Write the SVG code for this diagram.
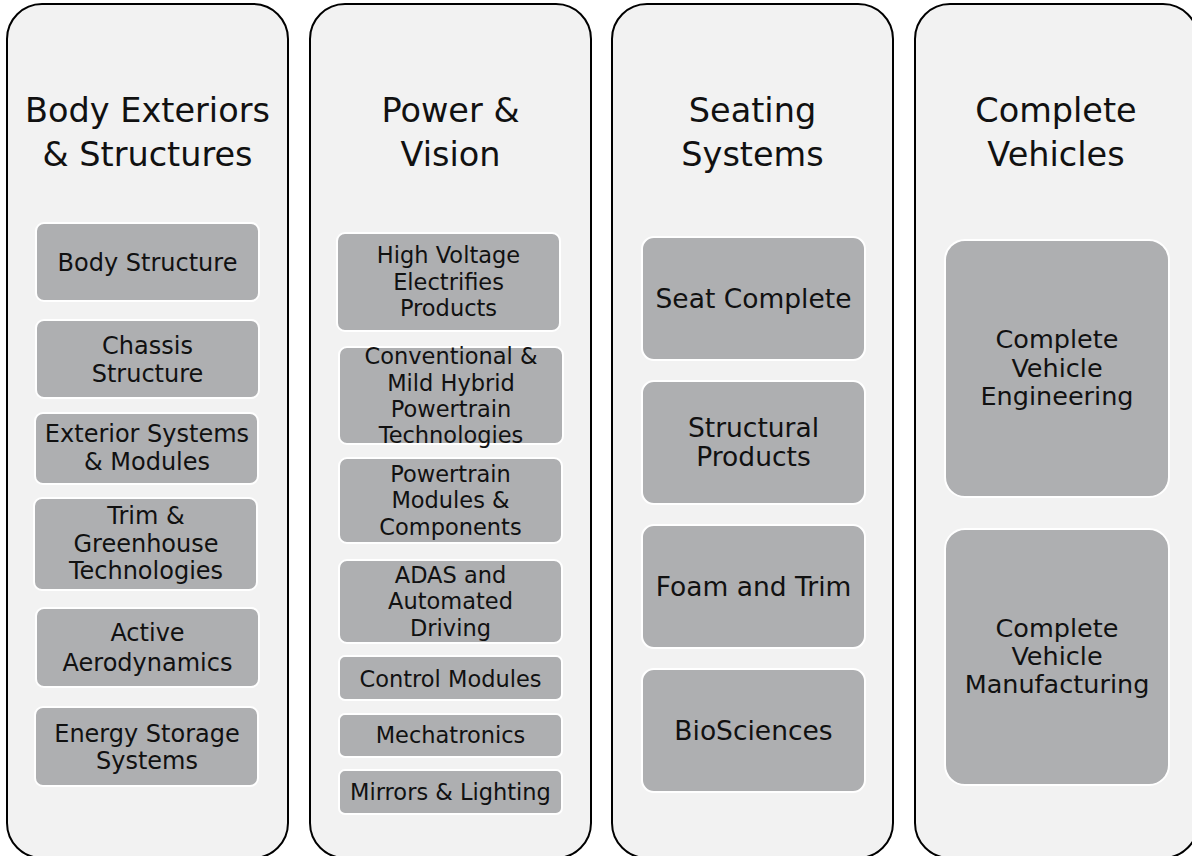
<svg xmlns="http://www.w3.org/2000/svg" width="1192" height="856" viewBox="0 0 1192 856">
<style>
.col{fill:#f2f2f2;stroke:#000;stroke-width:2}
.box{fill:#aeafb1;stroke:#fff;stroke-width:2}
text{font-family:"DejaVu Sans",sans-serif;fill:#111;text-anchor:middle}
.t{font-size:33.5px}
.a{font-size:24px}
.b{font-size:22.5px}
.c{font-size:26.5px}
.d{font-size:25.5px}
</style>
<rect width="1192" height="856" fill="#fff"/>
<g id="col-body">
<rect class="col" x="7" y="4" width="281" height="854" rx="35"/>
<text class="t" x="147.5" y="122">Body Exteriors</text>
<text class="t" x="147.5" y="166">&amp; Structures</text>
</g>
<g id="col-power">
<rect class="col" x="310" y="4" width="281" height="854" rx="35"/>
<text class="t" x="450.5" y="122">Power &amp;</text>
<text class="t" x="450.5" y="166">Vision</text>
</g>
<g id="col-seating">
<rect class="col" x="612" y="4" width="281" height="854" rx="35"/>
<text class="t" x="752.5" y="122">Seating</text>
<text class="t" x="752.5" y="166">Systems</text>
</g>
<g id="col-complete">
<rect class="col" x="915" y="4" width="283" height="854" rx="35"/>
<text class="t" x="1056" y="122">Complete</text>
<text class="t" x="1056" y="166">Vehicles</text>
</g>

<g id="body-structure"><rect class="box" x="36" y="223" width="223" height="78" rx="8"/><text class="a" x="147.5" y="271">Body Structure</text></g>
<g id="chassis-structure"><rect class="box" x="36" y="320" width="223" height="78" rx="8"/><text class="a" x="147.5" y="354">Chassis</text><text class="a" x="147.5" y="382">Structure</text></g>
<g id="exterior-systems"><rect class="box" x="35" y="413" width="223" height="71" rx="8"/><text class="a" x="147" y="442">Exterior Systems</text><text class="a" x="147" y="470">&amp; Modules</text></g>
<g id="trim-greenhouse"><rect class="box" x="34" y="498" width="223" height="92" rx="8"/><text class="a" x="146" y="524">Trim &amp;</text><text class="a" x="146" y="552">Greenhouse</text><text class="a" x="146" y="579">Technologies</text></g>
<g id="active-aero"><rect class="box" x="36" y="608" width="223" height="79" rx="8"/><text class="a" x="147.5" y="641">Active</text><text class="a" x="147.5" y="671">Aerodynamics</text></g>
<g id="energy-storage"><rect class="box" x="35" y="707" width="223" height="79" rx="8"/><text class="a" x="147" y="742">Energy Storage</text><text class="a" x="147" y="769">Systems</text></g>

<g id="high-voltage"><rect class="box" x="337" y="233" width="223" height="98" rx="8"/><text class="b" x="448.5" y="263">High Voltage</text><text class="b" x="448.5" y="290">Electrifies</text><text class="b" x="448.5" y="316">Products</text></g>
<g id="conventional"><rect class="box" x="339" y="347" width="224" height="97" rx="8"/><text class="b" x="451" y="364">Conventional &amp;</text><text class="b" x="451" y="391">Mild Hybrid</text><text class="b" x="451" y="417">Powertrain</text><text class="b" x="451" y="443">Technologies</text></g>
<g id="powertrain-modules"><rect class="box" x="339" y="458" width="223" height="85" rx="8"/><text class="b" x="450.5" y="482">Powertrain</text><text class="b" x="450.5" y="508">Modules &amp;</text><text class="b" x="450.5" y="535">Components</text></g>
<g id="adas"><rect class="box" x="339" y="560" width="223" height="83" rx="8"/><text class="b" x="450.5" y="583">ADAS and</text><text class="b" x="450.5" y="609">Automated</text><text class="b" x="450.5" y="636">Driving</text></g>
<g id="control-modules"><rect class="box" x="339" y="656" width="223" height="44" rx="6"/><text class="b" x="450.5" y="687">Control Modules</text></g>
<g id="mechatronics"><rect class="box" x="339" y="714" width="223" height="43" rx="6"/><text class="b" x="450.5" y="743">Mechatronics</text></g>
<g id="mirrors-lighting"><rect class="box" x="339" y="770" width="223" height="44" rx="6"/><text class="b" x="450.5" y="800">Mirrors &amp; Lighting</text></g>

<g id="seat-complete"><rect class="box" x="642" y="237" width="223" height="123" rx="12"/><text class="c" x="753.5" y="308">Seat Complete</text></g>
<g id="structural-products"><rect class="box" x="642" y="381" width="223" height="123" rx="12"/><text class="c" x="753.5" y="437">Structural</text><text class="c" x="753.5" y="466">Products</text></g>
<g id="foam-trim"><rect class="box" x="642" y="525" width="223" height="123" rx="12"/><text class="c" x="753.5" y="596">Foam and Trim</text></g>
<g id="biosciences"><rect class="box" x="642" y="669" width="223" height="123" rx="12"/><text class="c" x="753.5" y="740">BioSciences</text></g>

<g id="cv-engineering"><rect class="box" x="945" y="240" width="224" height="257" rx="20"/><text class="d" x="1057" y="348">Complete</text><text class="d" x="1057" y="376.5">Vehicle</text><text class="d" x="1057" y="405">Engineering</text></g>
<g id="cv-manufacturing"><rect class="box" x="945" y="529" width="224" height="256" rx="20"/><text class="d" x="1057" y="637">Complete</text><text class="d" x="1057" y="665">Vehicle</text><text class="d" x="1057" y="693">Manufacturing</text></g>
<g id="connectors"/>
</svg>
